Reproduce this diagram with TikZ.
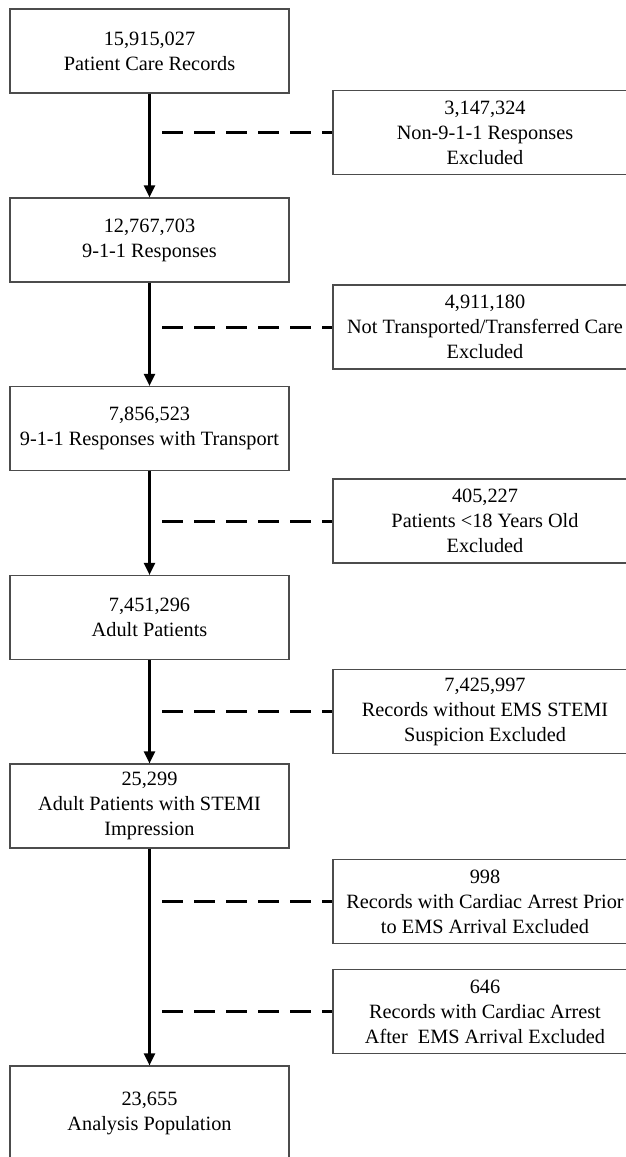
\documentclass[tikz,border=0pt]{standalone}
\usepackage{fontspec}
\setmainfont{Liberation Serif}
\usepackage{xcolor}
\usepackage{tikz}
\usetikzlibrary{arrows.meta}

\tikzset{
  stage/.style={draw=black!70, line width=1.2pt, minimum width=279pt, minimum height=84pt,
    inner sep=0pt, align=center, font=\fontsize{20.3}{25}\selectfont},
  excl/.style={stage, minimum width=304pt}
}

\begin{document}
\begin{tikzpicture}[x=1pt,y=-1pt]
\useasboundingbox (0,0) rectangle (626,1157);
  \node[stage]   (S1) at (149.5,51)    {15,915,027\\Patient Care Records};
  \node[stage]   (S2) at (149.5,240)   {12,767,703\\9-1-1 Responses};
  \node[stage]   (S3) at (149.5,428.5) {7,856,523\\9-1-1 Responses with Transport};
  \node[stage]   (S4) at (149.5,617.5) {7,451,296\\Adult Patients};
  \node[stage]   (S5) at (149.5,806)   {25,299\\Adult Patients with STEMI\\Impression};
  \node[stage, minimum height=94pt] (S6) at (149.5,1113) {23,655\\Analysis Population};

  \node[excl]    (E1) at (485,132.5)   {3,147,324\\Non-9-1-1 Responses\\Excluded};
  \node[excl]    (E2) at (485,327)     {4,911,180\\Not Transported/Transferred Care\\Excluded};
  \node[excl]    (E3) at (485,521)     {405,227\\Patients <18 Years Old\\Excluded};
  \node[excl]    (E4) at (485,711.5)   {7,425,997\\Records without EMS STEMI\\Suspicion Excluded};
  \node[excl]    (E5) at (485,901.5)   {998\\Records with Cardiac Arrest Prior\\to EMS Arrival Excluded};
  \node[excl]    (E6) at (485,1011.5)  {646\\Records with Cardiac Arrest\\After\ \ EMS Arrival Excluded};

  \coordinate (C1) at (162,132.5);
  \coordinate (C2) at (162,327);
  \coordinate (C3) at (162,521);
  \coordinate (C4) at (162,711.5);
  \coordinate (C5) at (162,901.5);
  \coordinate (C6) at (162,1011.5);

  \path[->,>={Triangle[length=12pt,width=11pt]}, line width=2.2pt]
        (S1) edge (S2)
        (S2) edge (S3)
        (S3) edge (S4)
        (S4) edge (S5)
        (S5) edge (S6);

  \path[dash pattern=on 21pt off 11pt, line width=3pt]
        (C1) edge (E1)
        (C2) edge (E2)
        (C3) edge (E3)
        (C4) edge (E4)
        (C5) edge (E5)
        (C6) edge (E6);
\end{tikzpicture}
\end{document}
